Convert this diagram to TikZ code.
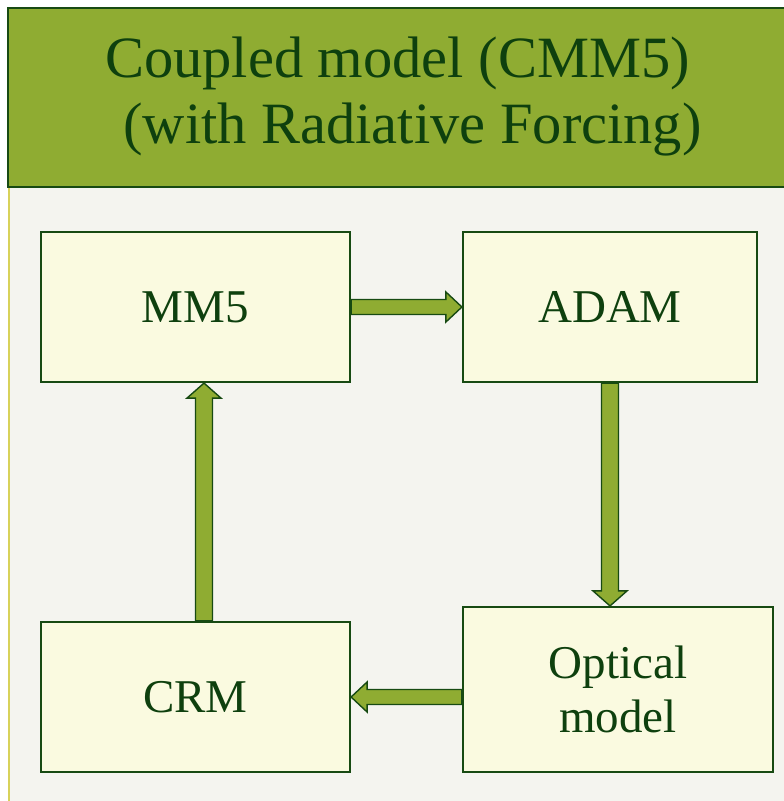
\documentclass[tikz,border=0pt]{standalone}
\usepackage{fontspec}
\setmainfont{Liberation Serif}
\usetikzlibrary{calc}
\definecolor{headfill}{HTML}{8FAC32}
\definecolor{darkgr}{HTML}{174A12}
\definecolor{txtgr}{HTML}{0E400E}
\definecolor{bodybg}{HTML}{F4F4EF}
\definecolor{boxfill}{HTML}{FAFAE0}
\definecolor{stripe}{HTML}{D8D25A}
\definecolor{arrfill}{HTML}{8FAC32}
\tikzset{
  modbox/.style={draw=darkgr, line width=2.2pt, fill=boxfill, inner sep=0pt,
    text=txtgr, align=center, font=\fontsize{47}{54}\selectfont},
  blockarrow/.style={draw=darkgr, line width=1.4pt, fill=arrfill, line join=miter},
}
\begin{document}
\begin{tikzpicture}[x=1pt,y=-1pt]
\useasboundingbox (0,0) rectangle (784,801);
\clip (0,0) rectangle (784,801);
\fill[white] (0,0) rectangle (784,801);
% body
\fill[bodybg] (8,187) rectangle (790,805);
\draw[stripe, line width=2pt] (9,187) -- (9,805);
% header
\draw[draw=darkgr, line width=2pt, fill=headfill] (8,8) rectangle (792,187);
\node[text=txtgr, align=center, font=\fontsize{58.5}{66}\selectfont] (title) at (397.5,97)
  {Coupled model (CMM5)\\\hspace*{30pt}(with Radiative Forcing)};
% boxes
\node[modbox, minimum width=309pt, minimum height=150pt] (mm5) at (195.5,307) {MM5};
\node[modbox, minimum width=294pt, minimum height=150pt] (adam) at (610,307) {ADAM};
\node[modbox, minimum width=309pt, minimum height=150pt] (crm) at (195.5,697) {CRM};
\node[modbox, minimum width=310pt, minimum height=165pt] (opt) at (618,689.5) {Optical\\model};
% MM5 -> ADAM
\draw[blockarrow] ($(mm5.east)+(0,-7.5)$) -- ($(adam.west)+(-16,-7.5)$) -- ($(adam.west)+(-16,-15)$)
  -- (adam.west) -- ($(adam.west)+(-16,15)$) -- ($(adam.west)+(-16,7.5)$) -- ($(mm5.east)+(0,7.5)$) -- cycle;
% ADAM -> Optical
\coordinate (optin) at (adam.south |- opt.north);
\draw[blockarrow] ($(adam.south)+(-8.5,0)$) -- ($(optin)+(-8.5,-15)$) -- ($(optin)+(-17,-15)$)
  -- (optin) -- ($(optin)+(17,-15)$) -- ($(optin)+(8.5,-15)$) -- ($(adam.south)+(8.5,0)$) -- cycle;
% Optical -> CRM
\coordinate (optout) at (crm.east -| opt.west);
\draw[blockarrow] ($(optout)+(0,-7.5)$) -- ($(crm.east)+(16,-7.5)$) -- ($(crm.east)+(16,-15)$)
  -- (crm.east) -- ($(crm.east)+(16,15)$) -- ($(crm.east)+(16,7.5)$) -- ($(optout)+(0,7.5)$) -- cycle;
% CRM -> MM5
\coordinate (crmout) at ($(crm.north)+(8.5,0)$);
\coordinate (mm5in) at ($(mm5.south)+(8.5,0)$);
\draw[blockarrow] ($(crmout)+(-8.5,0)$) -- ($(mm5in)+(-8.5,15)$) -- ($(mm5in)+(-17,15)$)
  -- (mm5in) -- ($(mm5in)+(17,15)$) -- ($(mm5in)+(8.5,15)$) -- ($(crmout)+(8.5,0)$) -- cycle;
\end{tikzpicture}
\end{document}
